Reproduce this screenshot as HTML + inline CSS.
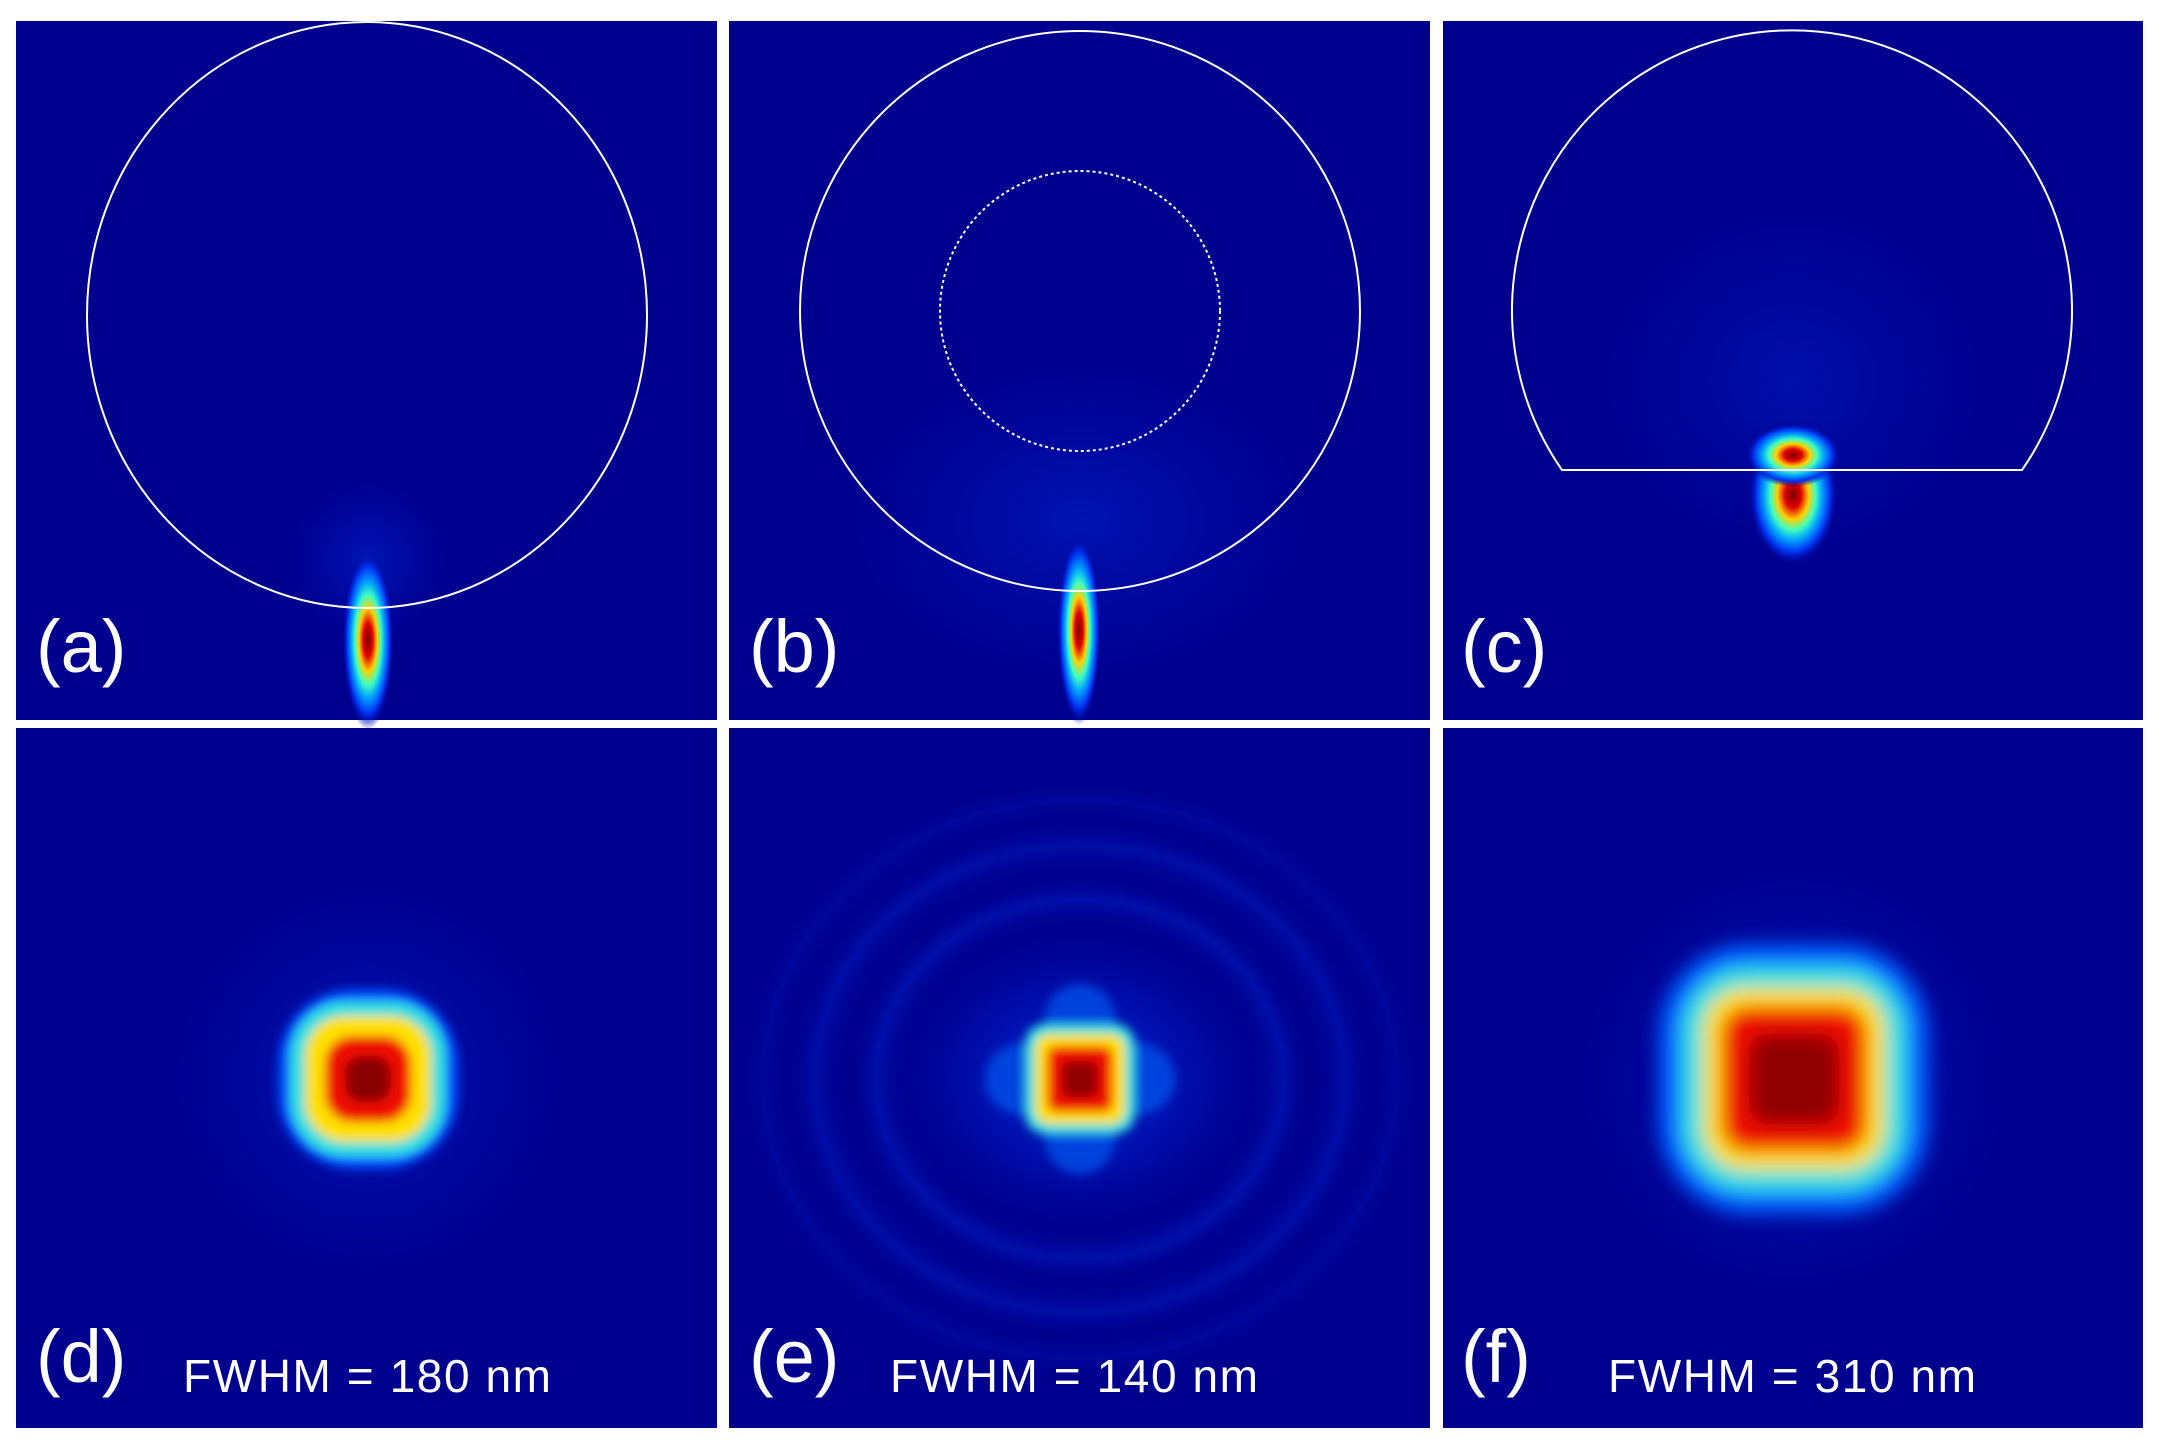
<!DOCTYPE html>
<html><head><meta charset="utf-8"><style>
html,body{margin:0;padding:0;background:#fff;}
svg{display:block;}
text{font-family:"Liberation Sans",sans-serif;fill:#fff;}
</style></head><body>
<svg width="2160" height="1447" viewBox="0 0 2160 1447">
<defs>
<radialGradient id="jet" cx="50%" cy="50%" r="50%">
<stop offset="0" stop-color="#7a0000"/>
<stop offset="0.18" stop-color="#e00000"/>
<stop offset="0.35" stop-color="#ffd000"/>
<stop offset="0.5" stop-color="#40ffc0"/>
<stop offset="0.65" stop-color="#00a0ff"/>
<stop offset="0.82" stop-color="#0030f0"/>
<stop offset="1" stop-color="#00008f" stop-opacity="0"/>
</radialGradient>
<radialGradient id="halo" cx="50%" cy="50%" r="50%">
<stop offset="0" stop-color="#0040ff" stop-opacity="0.7"/>
<stop offset="0.6" stop-color="#0020d0" stop-opacity="0.35"/>
<stop offset="1" stop-color="#00008f" stop-opacity="0"/>
</radialGradient>
<radialGradient id="ring" cx="50%" cy="50%" r="50%">
<stop offset="0.5" stop-color="#00008f" stop-opacity="0"/>
<stop offset="0.6" stop-color="#0030e0" stop-opacity="0.35"/>
<stop offset="0.68" stop-color="#00008f" stop-opacity="0"/>
<stop offset="0.78" stop-color="#0030e0" stop-opacity="0.3"/>
<stop offset="0.86" stop-color="#00008f" stop-opacity="0"/>
<stop offset="0.93" stop-color="#0020c0" stop-opacity="0.25"/>
<stop offset="1" stop-color="#00008f" stop-opacity="0"/>
</radialGradient>
<filter id="blur" x="-50%" y="-50%" width="200%" height="200%"><feGaussianBlur stdDeviation="9"/></filter>
<filter id="blur2" x="-50%" y="-50%" width="200%" height="200%"><feGaussianBlur stdDeviation="5"/></filter>
</defs>

<rect x="16" y="21" width="701" height="699" fill="#00008f"/>
<rect x="729" y="21" width="701" height="699" fill="#00008f"/>
<rect x="1443" y="21" width="700" height="699" fill="#00008f"/>
<rect x="16" y="728" width="701" height="700" fill="#00008f"/>
<rect x="729" y="728" width="701" height="700" fill="#00008f"/>
<rect x="1443" y="728" width="700" height="700" fill="#00008f"/>

<!-- panel a -->
<ellipse cx="368" cy="560" rx="90" ry="90" fill="url(#halo)" opacity="0.5"/>
<ellipse cx="368" cy="640" rx="26" ry="90" fill="url(#jet)"/>
<ellipse cx="367" cy="315" rx="280" ry="293" fill="none" stroke="#fff" stroke-width="2"/>

<!-- panel b -->
<ellipse cx="1080" cy="520" rx="260" ry="180" fill="url(#halo)" opacity="0.45"/>
<ellipse cx="1079" cy="630" rx="22" ry="95" fill="url(#jet)"/>
<circle cx="1080" cy="311" r="280" fill="none" stroke="#fff" stroke-width="2"/>
<circle cx="1080" cy="311" r="140" fill="none" stroke="#fff" stroke-width="2" stroke-dasharray="3 3"/>

<!-- panel c -->
<ellipse cx="1793" cy="380" rx="220" ry="200" fill="url(#halo)" opacity="0.35"/>
<ellipse cx="1793" cy="495" rx="45" ry="70" fill="url(#jet)"/>
<ellipse cx="1793" cy="455" rx="48" ry="32" fill="url(#jet)"/>
<path d="M1562,470 L2022,470 A280,280 0 1 0 1562,470 Z" fill="none" stroke="#fff" stroke-width="2"/>

<!-- panel d -->
<circle cx="368" cy="1079" r="220" fill="url(#halo)" opacity="0.5"/>
<g filter="url(#blur2)">
<rect x="278" y="989" width="180" height="180" rx="75" fill="#0050ff"/>
<rect x="290" y="1001" width="156" height="156" rx="55" fill="#30e0e0"/>
<rect x="305" y="1016" width="126" height="126" rx="40" fill="#ffe000"/>
<rect x="325" y="1036" width="86" height="86" rx="28" fill="#ee1000"/>
<rect x="345" y="1056" width="46" height="46" rx="16" fill="#8a0000"/>
</g>

<!-- panel e -->
<ellipse cx="1080" cy="1079" rx="340" ry="300" fill="url(#ring)"/>
<ellipse cx="1080" cy="1079" rx="200" ry="160" fill="url(#halo)"/>
<g filter="url(#blur2)">
<rect x="985" y="1044" width="190" height="70" rx="35" fill="#0050e8" opacity="0.8"/>
<rect x="1045" y="984" width="70" height="190" rx="35" fill="#0050e8" opacity="0.8"/>
<rect x="1025" y="1024" width="110" height="110" rx="20" fill="#30e0e0"/>
<rect x="1035" y="1034" width="90" height="90" rx="14" fill="#ffe000"/>
<rect x="1047" y="1046" width="66" height="66" rx="10" fill="#ee1000"/>
<rect x="1062" y="1061" width="36" height="36" rx="8" fill="#900000"/>
</g>

<!-- panel f -->
<circle cx="1794" cy="1079" r="240" fill="url(#halo)" opacity="0.6"/>
<g filter="url(#blur)">
<rect x="1659" y="944" width="270" height="270" rx="90" fill="#0060ff"/>
<rect x="1681" y="966" width="226" height="226" rx="65" fill="#30e0e0"/>
<rect x="1703" y="988" width="182" height="182" rx="42" fill="#ffe000"/>
<rect x="1721" y="1006" width="146" height="146" rx="28" fill="#ee1000"/>
<rect x="1749" y="1034" width="90" height="90" rx="18" fill="#900000"/>
</g>

<!-- labels -->
<text x="36" y="672" font-size="74">(a)</text>
<text x="749" y="672" font-size="74">(b)</text>
<text x="1461" y="672" font-size="74">(c)</text>
<text x="36" y="1382" font-size="74">(d)</text>
<text x="749" y="1382" font-size="74">(e)</text>
<text x="1461" y="1382" font-size="74">(f)</text>
<text x="183" y="1392" font-size="46" textLength="368">FWHM = 180 nm</text>
<text x="890" y="1392" font-size="46" textLength="368">FWHM = 140 nm</text>
<text x="1608" y="1392" font-size="46" textLength="368">FWHM = 310 nm</text>
</svg>
</body></html>
